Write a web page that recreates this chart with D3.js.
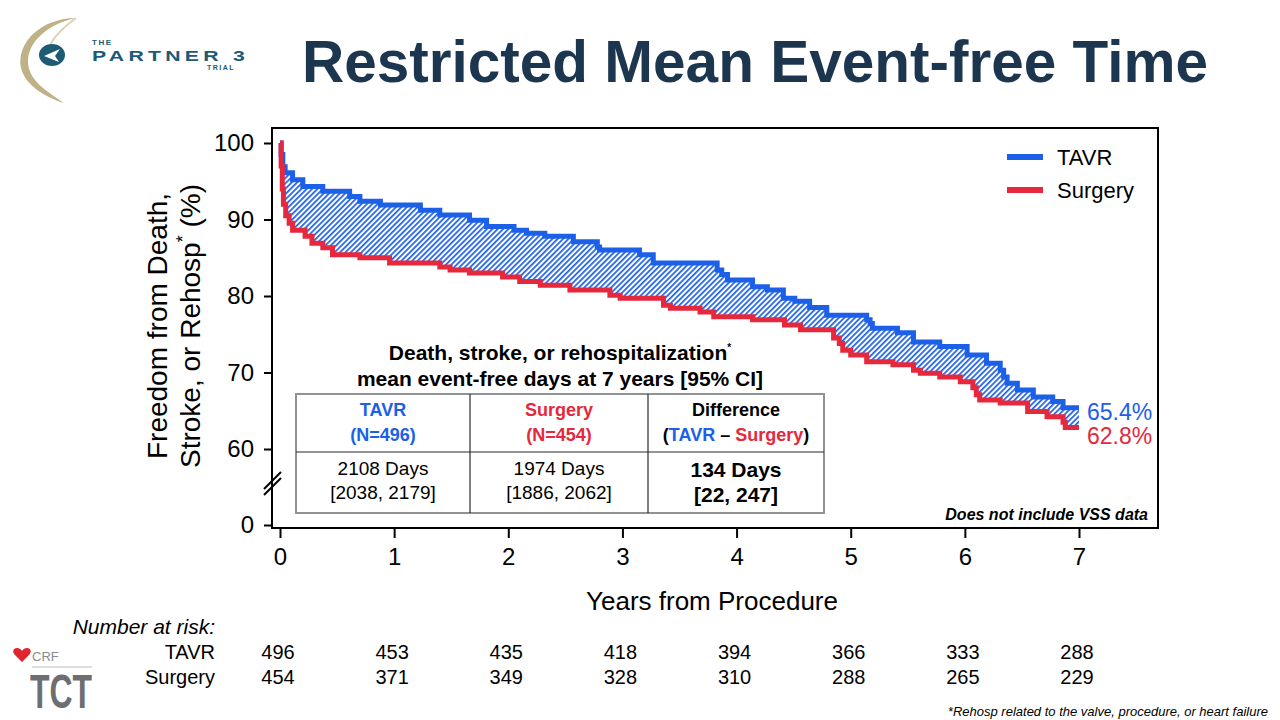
<!DOCTYPE html>
<html>
<head>
<meta charset="utf-8">
<script src="https://cdn.jsdelivr.net/npm/d3@7"></script>
<style>
body { margin: 0; background: #fff; }
svg text { font-family: "Liberation Sans", Arial, Helvetica, sans-serif; }
</style>
</head>
<body>
<div id="chart"></div>
<script>
// data
var years = [0, 1, 2, 3, 4, 5, 6, 7];
var yTicks = [0, 60, 70, 80, 90, 100];

var tavrTimes = [0, 0.01, 0.025, 0.045, 0.11, 0.2, 0.375, 0.61, 0.70, 0.88, 1.23, 1.40, 1.66, 1.81, 2.05, 2.16,
    2.32, 2.57, 2.78, 2.80, 3.15, 3.27, 3.83, 3.87, 3.92, 4.14, 4.27, 4.41, 4.51, 4.64, 4.79, 5.14, 5.17, 5.19,
    5.41, 5.55, 5.78, 6.02, 6.19, 6.31, 6.34, 6.37, 6.46, 6.60, 6.77, 6.86, 7.0];
var tavrValues = [100, 98.5, 96.9, 96.1, 95.2, 94.3, 93.7, 93.0, 92.4, 91.9, 91.2, 90.6, 89.9, 89.1, 88.6, 88.2,
    87.8, 87.1, 86.4, 86.0, 85.4, 84.3, 83.4, 82.8, 82.1, 81.2, 80.8, 79.7, 79.3, 78.5, 77.5, 76.9, 76.4, 75.8,
    75.2, 74.0, 73.4, 72.3, 71.2, 70.3, 69.4, 68.6, 67.7, 66.8, 66.2, 65.4, 65.4];

var surgTimes = [0, 0.01, 0.02, 0.03, 0.05, 0.08, 0.11, 0.22, 0.28, 0.375, 0.46, 0.70, 0.96, 1.40, 1.49, 1.66,
    1.95, 2.10, 2.28, 2.54, 2.89, 2.98, 3.36, 3.42, 3.68, 3.80, 4.14, 4.42, 4.56, 4.85, 4.90, 4.93, 5.0, 5.14,
    5.37, 5.55, 5.61, 5.78, 5.96, 6.07, 6.10, 6.13, 6.31, 6.55, 6.72, 6.86, 6.88, 7.0];
var surgValues = [100, 97, 94, 92, 90.5, 89.5, 88.6, 87.8, 86.9, 86.3, 85.4, 85.0, 84.3, 83.8, 83.4, 83.0,
    82.5, 81.9, 81.4, 80.8, 80.1, 79.7, 78.8, 78.4, 77.9, 77.3, 76.9, 76.2, 75.6, 74.5, 73.8, 72.9, 72.3, 71.4,
    71.0, 70.3, 69.9, 69.4, 68.8, 68.0, 67.1, 66.4, 66.0, 64.9, 64.2, 63.5, 62.8, 62.8];

var groups = ["TAVR", "Surgery"];
var endLabels = ["65.4%", "62.8%"];
var riskTavr = [496, 453, 435, 418, 394, 366, 333, 288];
var riskSurg = [454, 371, 349, 328, 310, 288, 265, 229];

var tableTitle = ["Death, stroke, or rehospitalization", "mean event-free days at 7 years [95% CI]"];
var tableHeads = [["TAVR", "(N=496)"], ["Surgery", "(N=454)"]];
var tableCells = [["2108 Days", "[2038, 2179]"], ["1974 Days", "[1886, 2062]"], ["134 Days", "[22, 247]"]];

var blue = "#1c60e8";
var red = "#e5283c";
var navy = "#1d3650";

var svgWidth = 1280;
var svgHeight = 720;
var frame = { left: 272, top: 128, right: 1158, bottom: 528 };

var svg = d3.select("#chart").append("svg").attr("width", svgWidth).attr("height", svgHeight);

var x = d3.scaleLinear().domain([0, 7]).range([280, 1079]);
// broken axis: 0 sits just under 60
var y = d3.scaleLinear().domain([0, 60, 100]).range([525, 449, 143]);

// title
svg.append("text")
    .attr("x", 755).attr("y", 82)
    .attr("text-anchor", "middle")
    .attr("font-size", 58.5).attr("font-weight", "bold")
    .attr("fill", navy)
    .text("Restricted Mean Event-free Time");

// partner 3 logo
var logo = svg.append("g");
logo.append("path")
    .attr("d", "M76,18 C42,18 16,42 21,68 C25,84 42,96 64,103 C46,91 29,80 28,63 C27,42 48,24 76,18 Z")
    .attr("fill", "#bfb287");
logo.append("path")
    .attr("d", "M76,18 C60,30 52,40 50,46")
    .attr("stroke", "#d9d2b6").attr("stroke-width", 2).attr("fill", "none");
logo.append("ellipse").attr("cx", 52).attr("cy", 55).attr("rx", 13).attr("ry", 11).attr("fill", "#1d5a73");
logo.append("path").attr("d", "M44,56 L60,49 L55,56 L59,62 Z").attr("fill", "#fff");
logo.append("text").attr("x", 92).attr("y", 45).attr("font-size", 8).attr("font-weight", "bold")
    .attr("fill", "#1d5a73").attr("letter-spacing", 1.5).text("THE");
logo.append("text").attr("x", 92).attr("y", 61).attr("font-size", 15).attr("font-weight", "bold")
    .attr("fill", "#1d5a73").attr("letter-spacing", 3)
    .attr("textLength", 157).attr("lengthAdjust", "spacingAndGlyphs").text("PARTNER 3");
logo.append("text").attr("x", 207).attr("y", 70).attr("font-size", 7).attr("font-weight", "bold")
    .attr("fill", "#1d5a73").attr("letter-spacing", 1.5).text("TRIAL");

// hatch pattern for the gap between curves
var defs = svg.append("defs");
var hatch = defs.append("pattern")
    .attr("id", "hatch")
    .attr("patternUnits", "userSpaceOnUse")
    .attr("width", 3.8).attr("height", 3.8)
    .attr("patternTransform", "rotate(45)");
hatch.append("rect").attr("width", 1.7).attr("height", 3.8).attr("fill", blue);

// plot frame
var frameG = svg.append("g").attr("stroke", "#000").attr("stroke-width", 2).attr("fill", "none");
frameG.append("path").attr("d", `M${frame.left},${frame.top}H${frame.right}V${frame.bottom}H${frame.left}Z`);

// axes
var leftAxis = d3.axisLeft(y).tickValues(yTicks).tickSize(8).tickSizeOuter(0).tickPadding(10);
var yAxis = svg.append("g").attr("transform", `translate(${frame.left},0)`).call(leftAxis);
yAxis.select(".domain").remove();
yAxis.selectAll("line").attr("stroke-width", 2);
yAxis.selectAll("text").attr("font-size", 24).attr("fill", "#000").style("font-family", "Liberation Sans, Arial");

var bottomAxis = d3.axisBottom(x).tickValues(years).tickFormat(d3.format("d"))
    .tickSize(10).tickSizeOuter(0).tickPadding(10);
var xAxis = svg.append("g").attr("transform", `translate(0,${frame.bottom})`).call(bottomAxis);
xAxis.select(".domain").remove();
xAxis.selectAll("line").attr("stroke-width", 2);
xAxis.selectAll("text").attr("font-size", 24).attr("fill", "#000").style("font-family", "Liberation Sans, Arial");

// axis break marks
var brk = svg.append("g").attr("stroke", "#000").attr("stroke-width", 2);
[0, 6].forEach(function(off) {
    brk.append("line")
        .attr("x1", frame.left - 8).attr("y1", y(30) + 8 - off)
        .attr("x2", frame.left + 9).attr("y2", y(30) - 9 - off);
});

// axis titles
var yLabel = svg.append("text")
    .attr("transform", "translate(167,326) rotate(-90)")
    .attr("text-anchor", "middle")
    .attr("font-size", 28);
yLabel.append("tspan").attr("x", 0).attr("y", 0).text("Freedom from Death,");
yLabel.append("tspan").attr("x", 0).attr("y", 33).text("Stroke, or Rehosp");
yLabel.append("tspan").attr("dy", -11).attr("font-size", 18).text("*");
yLabel.append("tspan").attr("dy", 11).text(" (%)");

svg.append("text")
    .attr("x", 712).attr("y", 610)
    .attr("text-anchor", "middle")
    .attr("font-size", 26)
    .text("Years from Procedure");

// step functions and band between them
function stepAt(times, vals, t) {
    var i = d3.bisectRight(times, t) - 1;
    return vals[Math.max(i, 0)];
}
var allTimes = Array.from(new Set(tavrTimes.concat(surgTimes))).sort(d3.ascending);
var band = allTimes.map(function(t) {
    return { t: t, hi: stepAt(tavrTimes, tavrValues, t), lo: stepAt(surgTimes, surgValues, t) };
});

var area = d3.area().curve(d3.curveStepAfter)
    .x(d => x(d.t)).y0(d => y(d.lo)).y1(d => y(d.hi));
svg.append("path").datum(band).attr("d", area).attr("fill", "url(#hatch)");

var line = d3.line().curve(d3.curveStepAfter).x(d => x(d[0])).y(d => y(d[1]));
var tavrPts = tavrTimes.map((t, i) => [t, tavrValues[i]]);
var surgPts = surgTimes.map((t, i) => [t, surgValues[i]]);
svg.append("path").datum(tavrPts).attr("d", line)
    .attr("fill", "none").attr("stroke", blue).attr("stroke-width", 5);
svg.append("path").datum(surgPts).attr("d", line)
    .attr("fill", "none").attr("stroke", red).attr("stroke-width", 5);

// end values
svg.append("text").attr("x", 1087).attr("y", y(65.4) + 12).attr("font-size", 23).attr("fill", blue).text(endLabels[0]);
svg.append("text").attr("x", 1087).attr("y", y(62.8) + 16).attr("font-size", 23).attr("fill", red).text(endLabels[1]);

// legend
var legend = svg.append("g");
[blue, red].forEach(function(c, i) {
    var ly = 157 + i * 33;
    legend.append("line").attr("x1", 1007).attr("x2", 1043).attr("y1", ly).attr("y2", ly)
        .attr("stroke", c).attr("stroke-width", 6);
    legend.append("text").attr("x", 1057).attr("y", ly + 8).attr("font-size", 22).text(groups[i]);
});

// results table
var tbl = svg.append("g");
var t1 = tbl.append("text").attr("x", 560).attr("y", 360).attr("text-anchor", "middle")
    .attr("font-size", 21).attr("font-weight", "bold");
t1.append("tspan").text(tableTitle[0]);
t1.append("tspan").attr("dy", -9).attr("font-size", 10).text("*");
tbl.append("text").attr("x", 560).attr("y", 386).attr("text-anchor", "middle")
    .attr("font-size", 21).attr("font-weight", "bold").text(tableTitle[1]);

var colX = [296, 470, 648, 824];
var rowY = [394, 452, 513];
tbl.append("rect").attr("x", colX[0]).attr("y", rowY[0])
    .attr("width", colX[3] - colX[0]).attr("height", rowY[2] - rowY[0])
    .attr("fill", "#fff").attr("stroke", "#8f9396").attr("stroke-width", 2);
tbl.append("line").attr("x1", colX[0]).attr("x2", colX[3]).attr("y1", rowY[1]).attr("y2", rowY[1])
    .attr("stroke", "#2b2b2b").attr("stroke-width", 1.2);
[colX[1], colX[2]].forEach(function(cx) {
    tbl.append("line").attr("x1", cx).attr("x2", cx).attr("y1", rowY[0]).attr("y2", rowY[2])
        .attr("stroke", "#2b2b2b").attr("stroke-width", 1.2);
});

var mids = [383, 559, 736];
tableHeads.forEach(function(h, i) {
    var c = i === 0 ? blue : red;
    tbl.append("text").attr("x", mids[i]).attr("y", 416).attr("text-anchor", "middle")
        .attr("font-size", 18).attr("font-weight", "bold").attr("fill", c).text(h[0]);
    tbl.append("text").attr("x", mids[i]).attr("y", 441).attr("text-anchor", "middle")
        .attr("font-size", 18).attr("font-weight", "bold").attr("fill", c).text(h[1]);
});
tbl.append("text").attr("x", mids[2]).attr("y", 416).attr("text-anchor", "middle")
    .attr("font-size", 18).attr("font-weight", "bold").text("Difference");
var diff = tbl.append("text").attr("x", mids[2]).attr("y", 441).attr("text-anchor", "middle")
    .attr("font-size", 18).attr("font-weight", "bold");
diff.append("tspan").text("(");
diff.append("tspan").attr("fill", blue).text("TAVR");
diff.append("tspan").text(" \u2013 ");
diff.append("tspan").attr("fill", red).text("Surgery");
diff.append("tspan").text(")");

tableCells.forEach(function(cell, i) {
    var bold = i === 2;
    tbl.append("text").attr("x", mids[i]).attr("y", bold ? 477 : 475).attr("text-anchor", "middle")
        .attr("font-size", bold ? 21 : 19).attr("font-weight", bold ? "bold" : "normal").text(cell[0]);
    tbl.append("text").attr("x", mids[i]).attr("y", bold ? 502 : 499).attr("text-anchor", "middle")
        .attr("font-size", bold ? 21 : 19).attr("font-weight", bold ? "bold" : "normal").text(cell[1]);
});

svg.append("text").attr("x", 1148).attr("y", 520).attr("text-anchor", "end")
    .attr("font-size", 16).attr("font-weight", "bold").attr("font-style", "italic")
    .text("Does not include VSS data");

// number at risk
svg.append("text").attr("x", 215).attr("y", 634).attr("text-anchor", "end")
    .attr("font-size", 21).attr("font-style", "italic").text("Number at risk:");
[riskTavr, riskSurg].forEach(function(row, i) {
    var ry = 659 + i * 25;
    svg.append("text").attr("x", 215).attr("y", ry).attr("text-anchor", "end")
        .attr("font-size", 20).text(groups[i]);
    svg.selectAll(null).data(row).enter().append("text")
        .attr("x", (d, j) => x(years[j]) - 2).attr("y", ry)
        .attr("text-anchor", "middle").attr("font-size", 20)
        .text(d => d);
});

svg.append("text").attr("x", 1268).attr("y", 716).attr("text-anchor", "end")
    .attr("font-size", 13).attr("font-style", "italic")
    .text("*Rehosp related to the valve, procedure, or heart failure");

// tct logo
var tct = svg.append("g");
tct.append("path")
    .attr("d", "M22,662 L15,655 C12,652 13,648 17,648 C19,648 21,649 22,651 C23,649 25,648 27,648 C31,648 32,652 29,655 Z")
    .attr("fill", "#e0252f");
tct.append("text").attr("x", 32).attr("y", 661).attr("font-size", 13).attr("fill", "#8a8b8d").text("CRF");
tct.append("line").attr("x1", 32).attr("x2", 92).attr("y1", 667).attr("y2", 667)
    .attr("stroke", "#bcbdbf").attr("stroke-width", 1);
tct.append("text").attr("x", 30).attr("y", 708).attr("font-size", 48).attr("font-weight", "bold")
    .attr("fill", "#6d6e71").attr("textLength", 62).attr("lengthAdjust", "spacingAndGlyphs").text("TCT");
</script>
</body>
</html>
